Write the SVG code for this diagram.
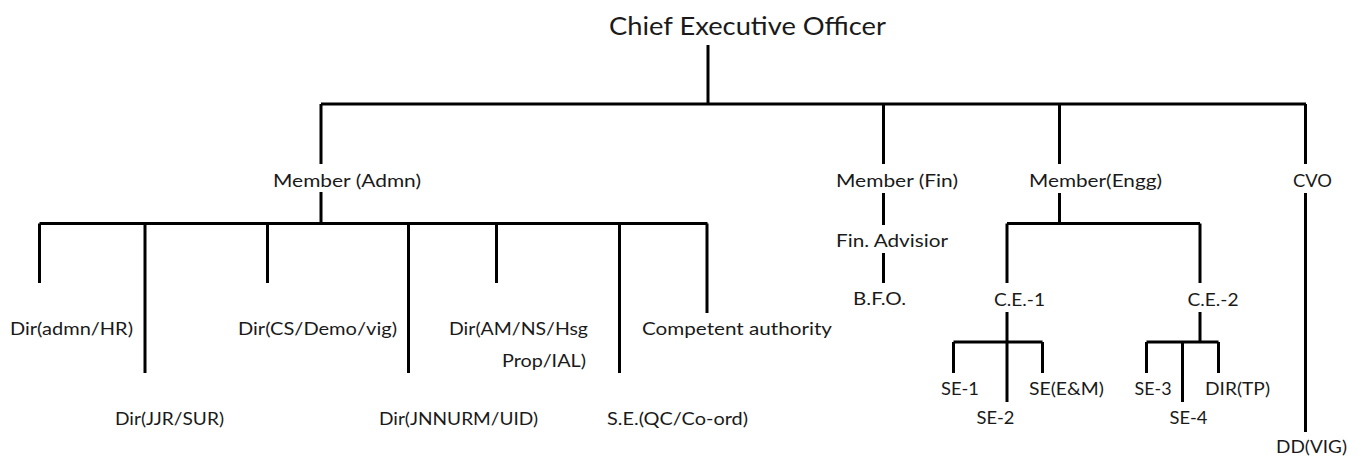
<svg xmlns="http://www.w3.org/2000/svg" width="1363" height="459" viewBox="0 0 1363 459">
<style>
.t{font-family:Lato,"Open Sans","Liberation Sans",sans-serif;font-size:18px;fill:#1a1a1a}
.h{font-size:25px}
.c{stroke:#000;stroke-width:3;fill:none;stroke-linecap:butt}
</style>
<rect width="1363" height="459" fill="#fff"/>
<g id="connectors" class="c">
<path d="M708,45V104M321,104H1306M321,104V164M883.5,104V164M1059.5,104V164M1305.5,104V164"/>
<path d="M321,192V223.5M39.5,223.5H707.5M39.5,223.5V283M145,223.5V373M267.5,223.5V283M408.5,223.5V373M496.5,223.5V283M619.5,223.5V373M707,223.5V313"/>
<path d="M883.5,193V225M883.5,253V283"/>
<path d="M1059.5,193V223.5M1007,223.5H1200M1007,223.5V283M1200,223.5V283"/>
<path d="M1007,312V342M953.5,342H1042.5M953.5,342V373M1007,342V402M1042.5,342V373"/>
<path d="M1200,312V342M1146.5,342H1218.5M1146.5,342V373M1182.5,342V402M1218.5,342V373"/>
<path d="M1305.5,193V432"/>
</g>
<g id="ceo"><text class="t h" x="609" y="35" textLength="277" lengthAdjust="spacingAndGlyphs">Chief Executive Officer</text></g>
<g id="member-admn"><text class="t" x="273" y="187" textLength="148" lengthAdjust="spacingAndGlyphs">Member (Admn)</text></g>
<g id="member-fin"><text class="t" x="836" y="187" textLength="122" lengthAdjust="spacingAndGlyphs">Member (Fin)</text></g>
<g id="member-engg"><text class="t" x="1029" y="187" textLength="133" lengthAdjust="spacingAndGlyphs">Member(Engg)</text></g>
<g id="cvo"><text class="t" x="1293" y="187" textLength="39" lengthAdjust="spacingAndGlyphs">CVO</text></g>
<g id="fin-advisior"><text class="t" x="836" y="246.5" textLength="112" lengthAdjust="spacingAndGlyphs">Fin. Advisior</text></g>
<g id="bfo"><text class="t" x="853" y="305" textLength="53" lengthAdjust="spacingAndGlyphs">B.F.O.</text></g>
<g id="ce1"><text class="t" x="994" y="305.5" textLength="51" lengthAdjust="spacingAndGlyphs">C.E.-1</text></g>
<g id="ce2"><text class="t" x="1187.5" y="305.5" textLength="51" lengthAdjust="spacingAndGlyphs">C.E.-2</text></g>
<g id="se1"><text class="t" x="941" y="395" textLength="38" lengthAdjust="spacingAndGlyphs">SE-1</text></g>
<g id="se2"><text class="t" x="976.5" y="424" textLength="38" lengthAdjust="spacingAndGlyphs">SE-2</text></g>
<g id="se-em"><text class="t" x="1029" y="395" textLength="75" lengthAdjust="spacingAndGlyphs">SE(E&amp;M)</text></g>
<g id="se3"><text class="t" x="1134.5" y="395" textLength="37" lengthAdjust="spacingAndGlyphs">SE-3</text></g>
<g id="se4"><text class="t" x="1169.5" y="424" textLength="38" lengthAdjust="spacingAndGlyphs">SE-4</text></g>
<g id="dir-tp"><text class="t" x="1205" y="395" textLength="65" lengthAdjust="spacingAndGlyphs">DIR(TP)</text></g>
<g id="dd-vig"><text class="t" x="1276" y="453" textLength="71" lengthAdjust="spacingAndGlyphs">DD(VIG)</text></g>
<g id="dir-admn-hr"><text class="t" x="10" y="335" textLength="123" lengthAdjust="spacingAndGlyphs">Dir(admn/HR)</text></g>
<g id="dir-jjr-sur"><text class="t" x="115" y="425" textLength="109" lengthAdjust="spacingAndGlyphs">Dir(JJR/SUR)</text></g>
<g id="dir-cs-demo-vig"><text class="t" x="238" y="335" textLength="159" lengthAdjust="spacingAndGlyphs">Dir(CS/Demo/vig)</text></g>
<g id="dir-jnnurm-uid"><text class="t" x="379" y="425" textLength="159" lengthAdjust="spacingAndGlyphs">Dir(JNNURM/UID)</text></g>
<g id="dir-am-ns-hsg"><text class="t" x="449" y="335" textLength="139" lengthAdjust="spacingAndGlyphs">Dir(AM/NS/Hsg</text><text class="t" x="502" y="366.5" textLength="84" lengthAdjust="spacingAndGlyphs">Prop/IAL)</text></g>
<g id="se-qc-coord"><text class="t" x="607" y="425" textLength="141" lengthAdjust="spacingAndGlyphs">S.E.(QC/Co-ord)</text></g>
<g id="competent-authority"><text class="t" x="642" y="335" textLength="190" lengthAdjust="spacingAndGlyphs">Competent authority</text></g>
</svg>
